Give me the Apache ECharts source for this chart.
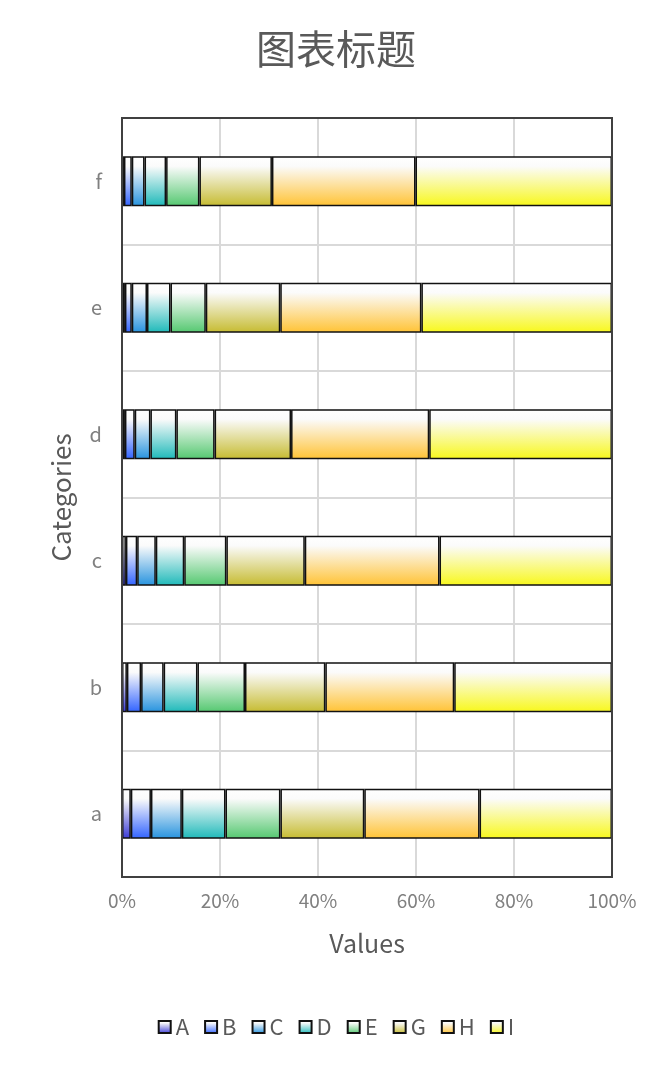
<!DOCTYPE html>
<html>
<head>
<meta charset="utf-8">
<script src="https://cdn.jsdelivr.net/npm/echarts@6/dist/echarts.min.js"></script>
<style>html,body{margin:0;padding:0;background:#fff;}#c{width:672px;height:1069px;}</style>
</head>
<body>
<div id="c"></div>
<script>
var categories = ['a', 'b', 'c', 'd', 'e', 'f'];
var seriesNames = ['A', 'B', 'C', 'D', 'E', 'G', 'H', 'I'];
var valuesA = [1.8, 1.0, 0.8, 0.6, 0.6, 0.4];
var valuesB = [4.1, 2.9, 2.3, 2.0, 1.4, 1.6];
var valuesC = [6.3, 4.6, 3.8, 3.2, 3.1, 2.6];
var valuesD = [8.9, 6.9, 5.8, 5.3, 4.8, 4.4];
var valuesE = [11.2, 9.7, 8.6, 7.8, 7.2, 6.8];
var valuesG = [17.1, 16.4, 16.0, 15.6, 15.2, 14.8];
var valuesH = [23.5, 26.3, 27.5, 28.2, 28.8, 29.3];
var valuesI = [27.0, 32.2, 35.2, 37.3, 38.9, 40.1];
var xTicks = [0, 20, 40, 60, 80, 100];

var allValues = [valuesA, valuesB, valuesC, valuesD, valuesE, valuesG, valuesH, valuesI];
var colors = ['#4646d8', '#3d6cff', '#3399e0', '#2bbdbd', '#5ecb78', '#c9bf3c', '#ffc640', '#f8f828'];

// normalize to 100% per category
var totals = categories.map(function (c, i) {
  var s = 0;
  allValues.forEach(function (arr) { s += arr[i]; });
  return s;
});

var font = '"Noto Sans CJK SC", "Noto Sans", sans-serif';

function grad(col) {
  return new echarts.graphic.LinearGradient(0, 0, 0, 1, [
    { offset: 0, color: '#ffffff' },
    { offset: 0.2, color: '#fbfbfb' },
    { offset: 0.95, color: col },
    { offset: 1, color: col }
  ]);
}

var series = seriesNames.map(function (name, k) {
  return {
    name: name,
    type: 'bar',
    stack: 'total',
    barWidth: 50,
    data: allValues[k].map(function (v, i) { return v / totals[i] * 100; }),
    itemStyle: {
      color: grad(colors[k]),
      borderColor: '#111111',
      borderWidth: 1.5
    }
  };
});

var chart = echarts.init(document.getElementById('c'), null, { renderer: 'canvas' });
chart.setOption({
  animation: false,
  backgroundColor: '#ffffff',
  title: {
    text: '图表标题',
    left: 'center',
    top: 24,
    textStyle: { fontFamily: font, fontSize: 40, fontWeight: 'normal', color: '#595959' }
  },
  legend: {
    bottom: 26,
    left: 'center',
    itemWidth: 12,
    itemHeight: 12,
    itemGap: 15,
    icon: 'rect',
    textStyle: { fontFamily: font, fontSize: 22, color: '#595959' },
    data: seriesNames
  },
  grid: {
    left: 122,
    right: 60,
    top: 118,
    bottom: 192,
    show: true,
    z: 10,
    backgroundColor: 'transparent',
    borderColor: '#404040',
    borderWidth: 2
  },
  xAxis: {
    type: 'value',
    min: xTicks[0],
    max: xTicks[xTicks.length - 1],
    interval: 20,
    name: 'Values',
    nameLocation: 'middle',
    nameGap: 54,
    nameTextStyle: { fontFamily: font, fontSize: 25, color: '#595959' },
    axisLine: { show: false },
    axisTick: { show: false },
    axisLabel: { formatter: '{value}%', fontFamily: font, fontSize: 19, color: '#808080', margin: 14 },
    splitLine: { show: true, lineStyle: { color: '#d9d9d9', width: 2 } }
  },
  yAxis: {
    type: 'category',
    data: categories,
    name: 'Categories',
    nameLocation: 'middle',
    nameGap: 48,
    nameTextStyle: { fontFamily: font, fontSize: 26, color: '#595959' },
    axisLine: { show: false },
    axisTick: { show: false },
    axisLabel: { fontFamily: font, fontSize: 20, color: '#808080', margin: 20 },
    splitLine: { show: true, lineStyle: { color: '#d9d9d9', width: 2 } }
  },
  series: series
});
</script>
</body>
</html>
